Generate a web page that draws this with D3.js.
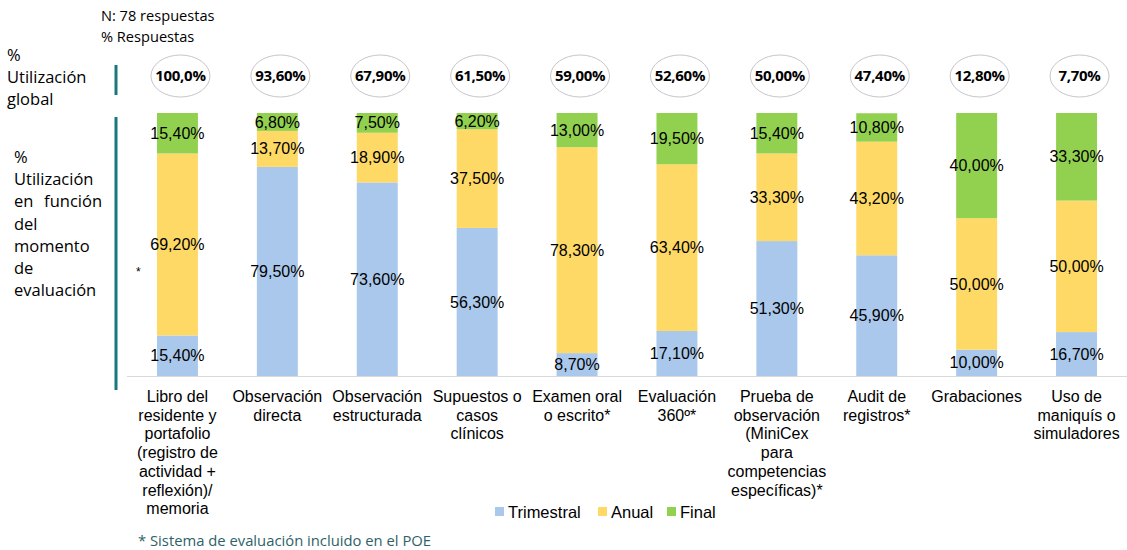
<!DOCTYPE html>
<html>
<head>
  <meta charset="utf-8">
  <script src="https://cdn.jsdelivr.net/npm/d3@7"></script>
  <style>
    body { margin: 0; background: #fff; }
    svg { display: block; }
  </style>
</head>
<body>
  <svg id="chart" width="1127" height="550"></svg>
  <script>
    // categories (line breaks as in the original)
    var categories = [
      'Libro del\nresidente y\nportafolio\n(registro de\nactividad +\nreflexión)/\nmemoria',
      'Observación\ndirecta',
      'Observación\nestructurada',
      'Supuestos o\ncasos\nclínicos',
      'Examen oral\no escrito*',
      'Evaluación\n360º*',
      'Prueba de\nobservación\n(MiniCex\npara\ncompetencias\nespecíficas)*',
      'Audit de\nregistros*',
      'Grabaciones',
      'Uso de\nmaniquís o\nsimuladores'
    ];
    var globalUse = ['100,0%', '93,60%', '67,90%', '61,50%', '59,00%', '52,60%', '50,00%', '47,40%', '12,80%', '7,70%'];
    var trimestral = [15.4, 79.5, 73.6, 56.3, 8.7, 17.1, 51.3, 45.9, 10.0, 16.7];
    var anual      = [69.2, 13.7, 18.9, 37.5, 78.3, 63.4, 33.3, 43.2, 50.0, 50.0];
    var final      = [15.4, 6.8, 7.5, 6.2, 13.0, 19.5, 15.4, 10.8, 40.0, 33.3];
    var seriesNames = ['Trimestral', 'Anual', 'Final'];
    var colors = ['#a9c8eb', '#fed966', '#92d050'];

    var rows = categories.map(function (c, i) {
      return { cat: c, Trimestral: trimestral[i], Anual: anual[i], Final: final[i] };
    });

    var svg = d3.select('#chart');
    var fmt = function (v) { return v.toFixed(2).replace('.', ',') + '%'; };

    var x = d3.scaleBand().domain(categories).range([127, 1127]).paddingInner(0.59).paddingOuter(0.3);
    var y = d3.scaleLinear().domain([0, 100]).range([376, 113]);
    var color = d3.scaleOrdinal().domain(seriesNames).range(colors);

    var stacked = d3.stack().keys(seriesNames)(rows);

    // bars
    var layers = svg.append('g').selectAll('g')
      .data(stacked).join('g')
      .attr('fill', function (d) { return color(d.key); });

    layers.selectAll('rect')
      .data(function (d) { return d; })
      .join('rect')
      .attr('x', function (d) { return x(d.data.cat); })
      .attr('width', x.bandwidth())
      .attr('y', function (d) { return y(d[1]); })
      .attr('height', function (d) { return y(d[0]) - y(d[1]); });

    // segment labels
    layers.selectAll('text')
      .data(function (d) { return d; })
      .join('text')
      .attr('x', function (d) { return x(d.data.cat) + x.bandwidth() / 2; })
      .attr('y', function (d) { return (y(d[0]) + y(d[1])) / 2; })
      .attr('dy', '0.35em')
      .attr('text-anchor', 'middle')
      .attr('fill', '#000')
      .style('font', '16px "Liberation Sans", Arial, sans-serif')
      .text(function (d) { return fmt(d[1] - d[0]); });

    // x axis line
    svg.append('line')
      .attr('x1', 127).attr('x2', 1127)
      .attr('y1', 376.5).attr('y2', 376.5)
      .attr('stroke', '#d9d9d9');

    // category labels
    var catLabels = svg.append('g').selectAll('text')
      .data(categories).join('text')
      .attr('text-anchor', 'middle')
      .attr('fill', '#000')
      .style('font', '16px "Liberation Sans", Arial, sans-serif');
    catLabels.each(function (c) {
      var t = d3.select(this);
      c.split('\n').forEach(function (line, k) {
        t.append('tspan')
          .attr('x', x(c) + x.bandwidth() / 2)
          .attr('y', 402 + k * 18.7)
          .text(line);
      });
    });

    // global utilisation ellipses
    var glob = svg.append('g').selectAll('g')
      .data(categories).join('g')
      .attr('transform', function (c) { return 'translate(' + (x(c) + x.bandwidth() / 2 + 3) + ',76)'; });
    glob.append('ellipse')
      .attr('rx', 29.5).attr('ry', 21)
      .attr('fill', '#fff')
      .attr('stroke', '#c6c6cc');
    glob.append('text')
      .attr('text-anchor', 'middle')
      .attr('dy', '0.35em')
      .style('font', 'bold 15px "Open Sans", sans-serif')
      .style('letter-spacing', '-0.3px')
      .text(function (c, i) { return globalUse[i]; });

    // left teal markers
    svg.append('line').attr('x1', 116).attr('x2', 116).attr('y1', 65).attr('y2', 95)
      .attr('stroke', '#18787a').attr('stroke-width', 3);
    svg.append('line').attr('x1', 116).attr('x2', 116).attr('y1', 117).attr('y2', 390)
      .attr('stroke', '#18787a').attr('stroke-width', 3);

    var sideFont = '16.5px "Open Sans", sans-serif';
    var topLabel = ['%', 'Utilización', 'global'];
    svg.append('g').selectAll('text').data(topLabel).join('text')
      .attr('x', 7).attr('y', function (d, i) { return 61 + i * 22; })
      .style('font', sideFont)
      .text(function (d) { return d; });

    // justified lines: [left word, right word]
    var sideLabel = [['%', ''], ['Utilización', ''], ['en', 'función'], ['del', ''], ['momento', ''], ['de', ''], ['evaluación', '']];
    var side = svg.append('g').selectAll('g').data(sideLabel).join('g')
      .attr('transform', function (d, i) { return 'translate(0,' + (163 + i * 22.2) + ')'; })
      .style('font', sideFont);
    side.append('text').attr('x', 14).text(function (d) { return d[0]; });
    side.append('text').attr('x', 102).attr('text-anchor', 'end').text(function (d) { return d[1]; });

    svg.append('text').attr('x', 136).attr('y', 276)
      .style('font', '12px "Liberation Sans", Arial, sans-serif')
      .text('*');

    // header
    svg.append('text').attr('x', 101).attr('y', 21)
      .style('font', '14.6px "Open Sans", sans-serif').text('N: 78 respuestas');
    svg.append('text').attr('x', 101).attr('y', 42)
      .style('font', '14.6px "Open Sans", sans-serif').text('% Respuestas');

    // legend
    var legendX = [495, 598, 667];
    var legend = svg.append('g').selectAll('g')
      .data(seriesNames).join('g')
      .attr('transform', function (d, i) { return 'translate(' + legendX[i] + ',512)'; });
    legend.append('rect').attr('x', 0).attr('y', -5).attr('width', 9).attr('height', 9)
      .attr('fill', function (d) { return color(d); });
    legend.append('text').attr('x', 13).attr('dy', '0.35em')
      .style('font', '16.5px "Liberation Sans", Arial, sans-serif')
      .text(function (d) { return d; });

    // footnote
    svg.append('text').attr('x', 138).attr('y', 546)
      .attr('fill', '#2f5f6a')
      .style('font', '14.8px "Open Sans", sans-serif')
      .text('* Sistema de evaluación incluido en el POE');
  </script>
</body>
</html>
